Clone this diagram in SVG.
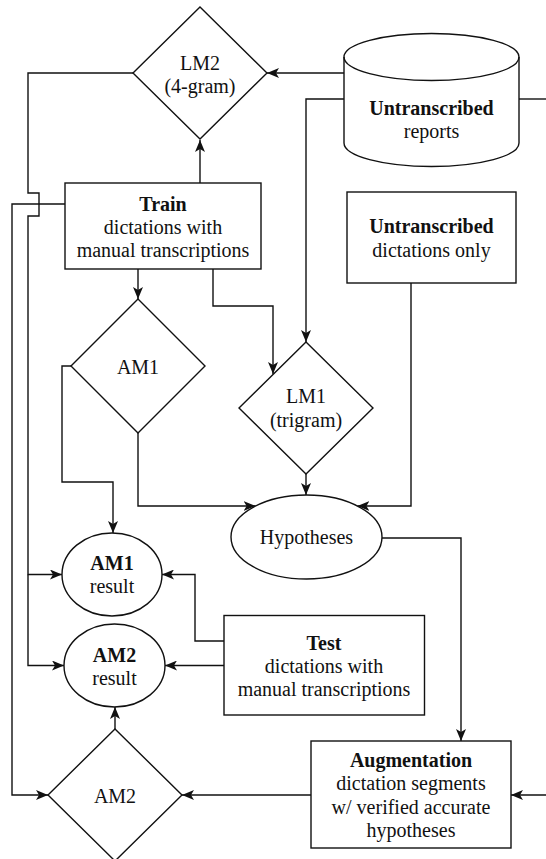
<svg xmlns="http://www.w3.org/2000/svg" width="546" height="859" viewBox="0 0 546 859">
<style>
.s{fill:#fff;stroke:#111;stroke-width:1.4}
.c{fill:none;stroke:#111;stroke-width:1.4}
.a{marker-end:url(#arr)}
text{font-family:"Liberation Serif","Times New Roman",serif;font-size:20px;fill:#111;text-anchor:middle}
.b{font-weight:bold}
</style>
<defs>
<marker id="arr" markerUnits="userSpaceOnUse" viewBox="0 0 12 10" refX="12" refY="5" markerWidth="12" markerHeight="10" orient="auto">
<path d="M0,0 L12,5 L0,10 L3,5 Z" fill="#111"/>
</marker>
</defs>
<rect width="546" height="859" fill="#fff"/>
<g id="connectors">
<path class="c a" d="M344,73 L267,73"/>
<path class="c a" d="M344,99 L306,99 L306,342"/>
<path class="c" d="M519,99 L546,99"/>
<path class="c a" d="M546,795 L511,795"/>
<path class="c a" d="M200,183 L200,140"/>
<path class="c a" d="M138,269 L138,299"/>
<path class="c a" d="M213,269 L213,306 L273,306 L273,374"/>
<path class="c a" d="M134,73 L28,73 L28,193 L39,193 L39,216 L28,216 L28,574.5 L62,574.5"/>
<path class="c a" d="M28,574.5 L28,665.5 L64,665.5"/>
<path class="c a" d="M65,204 L12,204 L12,795 L48,795"/>
<path class="c a" d="M71,366 L62,366 L62,482 L113,482 L113,533"/>
<path class="c a" d="M138,433 L138,506 L255.6,506"/>
<path class="c a" d="M306,474 L306,495"/>
<path class="c a" d="M411,283 L411,506 L357.4,506"/>
<path class="c a" d="M382,538 L461,538 L461,741"/>
<path class="c a" d="M224,641 L195,641 L195,574.5 L162,574.5"/>
<path class="c a" d="M224,665.5 L165,665.5"/>
<path class="c a" d="M311,795 L182,795"/>
<path class="c a" d="M115,729 L115,707"/>
</g>
<g id="lm2">
<path class="s" d="M200,7 L267,73 L200,139 L133,73 Z"/>
<text x="200" y="70">LM2</text>
<text x="200" y="93">(4-gram)</text>
</g>
<g id="reports">
<path class="s" d="M344,57 A87.5,23.5 0 0 1 519,57 L519,143 A87.5,23.5 0 0 1 344,143 Z"/>
<path class="c" d="M344,57 A87.5,23.5 0 0 0 519,57"/>
<text x="431.5" y="115" class="b">Untranscribed</text>
<text x="431.5" y="138">reports</text>
</g>
<g id="train">
<rect class="s" x="65" y="183" width="196" height="86"/>
<text x="163" y="211" class="b">Train</text>
<text x="163" y="234">dictations with</text>
<text x="163" y="257">manual transcriptions</text>
</g>
<g id="untranscribed-dictations">
<rect class="s" x="347" y="192" width="169" height="91"/>
<text x="431.5" y="233" class="b">Untranscribed</text>
<text x="431.5" y="257">dictations only</text>
</g>
<g id="am1">
<path class="s" d="M138,299 L205,366 L138,433 L71,366 Z"/>
<text x="138" y="374">AM1</text>
</g>
<g id="lm1">
<path class="s" d="M306,342 L373,408 L306,474 L239,408 Z"/>
<text x="306" y="403">LM1</text>
<text x="306" y="427">(trigram)</text>
</g>
<g id="hypotheses">
<ellipse class="s" cx="306.5" cy="537" rx="75.5" ry="42"/>
<text x="306.5" y="544">Hypotheses</text>
</g>
<g id="am1-result">
<ellipse class="s" cx="112" cy="574.5" rx="50" ry="41.5"/>
<text x="112" y="570" class="b">AM1</text>
<text x="112" y="593">result</text>
</g>
<g id="am2-result">
<ellipse class="s" cx="114.5" cy="665.5" rx="50.5" ry="41.5"/>
<text x="114.5" y="662" class="b">AM2</text>
<text x="114.5" y="685">result</text>
</g>
<g id="test">
<rect class="s" x="224" y="615.5" width="200.5" height="99.5"/>
<text x="324" y="650" class="b">Test</text>
<text x="324" y="673">dictations with</text>
<text x="324" y="696">manual transcriptions</text>
</g>
<g id="augmentation">
<rect class="s" x="311" y="741" width="200" height="107"/>
<text x="411" y="767" class="b">Augmentation</text>
<text x="411" y="790">dictation segments</text>
<text x="411" y="814">w/ verified accurate</text>
<text x="411" y="837">hypotheses</text>
</g>
<g id="am2">
<path class="s" d="M115,729 L182,795 L115,861 L48,795 Z"/>
<text x="115" y="803">AM2</text>
</g>
</svg>
